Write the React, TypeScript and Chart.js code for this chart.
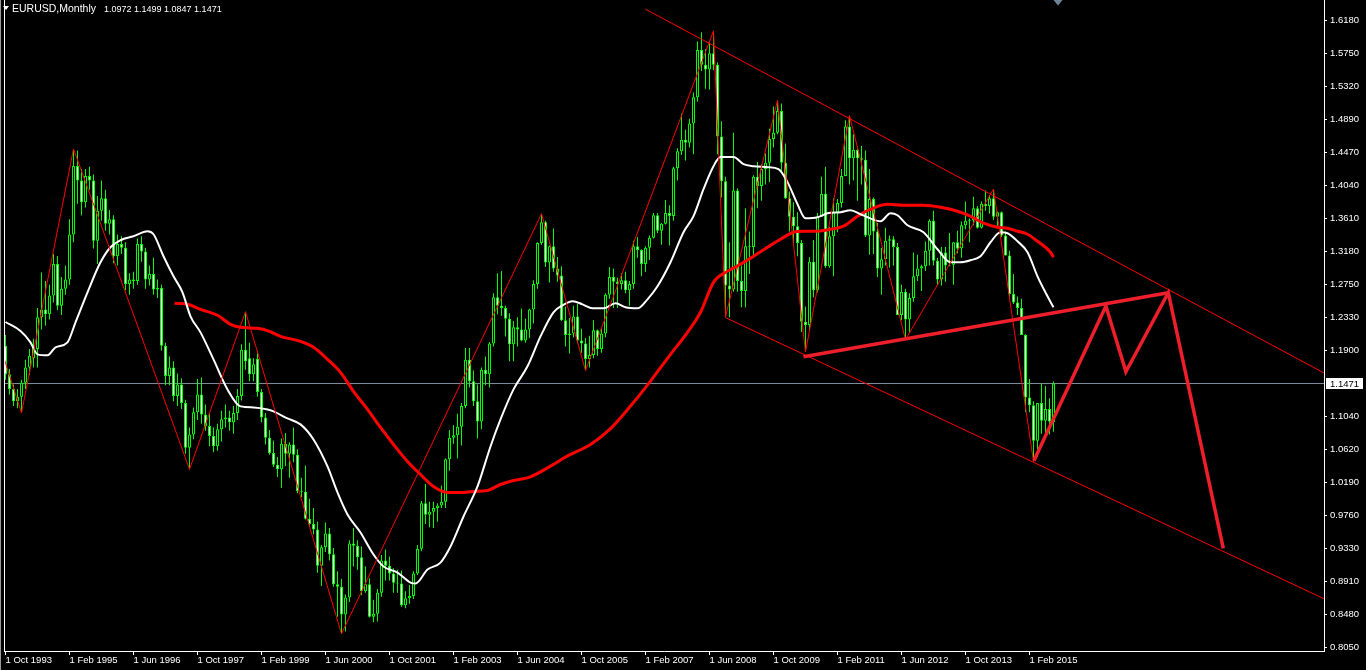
import React, { useEffect, useRef } from "react";
import { Chart, registerables } from "chart.js";

Chart.register(...registerables);

// ---- header ----
const symbolTitle = "EURUSD,Monthly";
const headerOHLC = [1.0972, 1.1499, 1.0847, 1.1471];
const currentPrice = 1.1471;

// ---- monthly candles, index 0 = Oct 1993 ... 262 = Aug 2015 ----
const opens = [
  1.196, 1.159, 1.140,
  1.124, 1.130, 1.148, 1.168, 1.180, 1.192, 1.233, 1.243, 1.237, 1.261, 1.302, 1.248,
  1.270, 1.282, 1.340, 1.429, 1.410, 1.382, 1.416, 1.410, 1.332, 1.371, 1.387, 1.354,
  1.360, 1.312, 1.328, 1.323, 1.276, 1.282, 1.280, 1.328, 1.318, 1.282, 1.289, 1.269,
  1.271, 1.196, 1.157, 1.168, 1.131, 1.146, 1.122, 1.064, 1.081, 1.110, 1.133, 1.107,
  1.092, 1.079, 1.066, 1.088, 1.101, 1.103, 1.097, 1.109, 1.131, 1.191, 1.180, 1.159,
  1.179, 1.136, 1.103, 1.077, 1.057, 1.042, 1.036, 1.069, 1.056, 1.068, 1.055, 1.008,
  1.007, 0.972, 0.965, 0.958, 0.911, 0.935, 0.953, 0.926, 0.887, 0.884, 0.848, 0.870,
  0.940, 0.937, 0.922, 0.878, 0.887, 0.845, 0.849, 0.876, 0.918, 0.911, 0.901, 0.889,
  0.888, 0.860, 0.869, 0.872, 0.901, 0.933, 0.992, 0.977, 0.981, 0.986, 0.989, 0.994,
  1.049, 1.077, 1.080, 1.091, 1.118, 1.178, 1.150, 1.124, 1.098, 1.165, 1.159, 1.199,
  1.259, 1.248, 1.245, 1.231, 1.198, 1.220, 1.217, 1.203, 1.217, 1.243, 1.276, 1.329,
  1.356, 1.304, 1.325, 1.296, 1.287, 1.229, 1.210, 1.212, 1.234, 1.203, 1.199, 1.179,
  1.184, 1.216, 1.192, 1.212, 1.262, 1.285, 1.279, 1.276, 1.281, 1.268, 1.276, 1.325,
  1.320, 1.302, 1.323, 1.336, 1.365, 1.345, 1.354, 1.368, 1.364, 1.426, 1.448, 1.463,
  1.459, 1.484, 1.518, 1.579, 1.560, 1.554, 1.575, 1.560, 1.467, 1.409, 1.274, 1.269,
  1.397, 1.280, 1.267, 1.325, 1.324, 1.415, 1.403, 1.425, 1.433, 1.464, 1.472, 1.500,
  1.433, 1.387, 1.363, 1.351, 1.329, 1.227, 1.223, 1.305, 1.268, 1.363, 1.393, 1.299,
  1.338, 1.369, 1.381, 1.416, 1.480, 1.439, 1.450, 1.439, 1.437, 1.339, 1.386, 1.344,
  1.296, 1.308, 1.332, 1.334, 1.324, 1.236, 1.266, 1.230, 1.258, 1.286, 1.296, 1.299,
  1.319, 1.358, 1.306, 1.282, 1.317, 1.300, 1.301, 1.330, 1.322, 1.352, 1.358, 1.359,
  1.374, 1.349, 1.380, 1.377, 1.387, 1.363, 1.369, 1.339, 1.313, 1.263, 1.252, 1.245,
  1.210, 1.129, 1.119, 1.073, 1.122, 1.099, 1.114, 1.0972,
];
const highs = [
  1.210, 1.166, 1.146,
  1.140, 1.152, 1.178, 1.192, 1.205, 1.245, 1.291, 1.280, 1.275, 1.315, 1.312, 1.285,
  1.300, 1.360, 1.451, 1.449, 1.425, 1.425, 1.428, 1.418, 1.390, 1.410, 1.398, 1.372,
  1.365, 1.340, 1.338, 1.330, 1.290, 1.292, 1.335, 1.338, 1.323, 1.300, 1.310, 1.282,
  1.275, 1.200, 1.182, 1.176, 1.160, 1.154, 1.126, 1.090, 1.116, 1.153, 1.155, 1.120,
  1.108, 1.090, 1.095, 1.112, 1.120, 1.112, 1.118, 1.140, 1.198, 1.240, 1.200, 1.180,
  1.190, 1.140, 1.109, 1.087, 1.073, 1.052, 1.076, 1.083, 1.071, 1.090, 1.062, 1.025,
  1.041, 0.998, 0.986, 0.968, 0.938, 0.967, 0.960, 0.934, 0.904, 0.894, 0.874, 0.944,
  0.960, 0.944, 0.936, 0.910, 0.895, 0.867, 0.881, 0.925, 0.932, 0.923, 0.908, 0.906,
  0.905, 0.878, 0.886, 0.904, 0.938, 0.995, 1.017, 0.994, 0.994, 0.992, 1.015, 1.050,
  1.087, 1.093, 1.108, 1.122, 1.193, 1.193, 1.164, 1.146, 1.168, 1.182, 1.201, 1.264,
  1.290, 1.293, 1.248, 1.238, 1.228, 1.233, 1.244, 1.231, 1.244, 1.281, 1.330, 1.367,
  1.358, 1.326, 1.348, 1.311, 1.299, 1.247, 1.232, 1.248, 1.250, 1.218, 1.206, 1.209,
  1.229, 1.217, 1.218, 1.264, 1.298, 1.296, 1.284, 1.290, 1.292, 1.280, 1.332, 1.337,
  1.321, 1.325, 1.339, 1.368, 1.368, 1.355, 1.385, 1.378, 1.428, 1.452, 1.497, 1.476,
  1.490, 1.524, 1.590, 1.602, 1.580, 1.589, 1.604, 1.563, 1.487, 1.415, 1.330, 1.472,
  1.400, 1.300, 1.374, 1.344, 1.417, 1.434, 1.431, 1.445, 1.477, 1.506, 1.514, 1.510,
  1.458, 1.396, 1.382, 1.369, 1.333, 1.247, 1.311, 1.333, 1.368, 1.415, 1.428, 1.350,
  1.387, 1.386, 1.425, 1.488, 1.494, 1.470, 1.454, 1.455, 1.449, 1.425, 1.388, 1.355,
  1.323, 1.349, 1.339, 1.338, 1.329, 1.275, 1.270, 1.264, 1.317, 1.314, 1.301, 1.331,
  1.360, 1.371, 1.310, 1.324, 1.324, 1.342, 1.330, 1.345, 1.357, 1.383, 1.361, 1.389,
  1.377, 1.383, 1.397, 1.391, 1.399, 1.370, 1.370, 1.344, 1.319, 1.289, 1.260, 1.257,
  1.211, 1.153, 1.124, 1.122, 1.147, 1.144, 1.128, 1.1499,
];
const lows = [
  1.152, 1.133, 1.118,
  1.115, 1.109, 1.140, 1.158, 1.168, 1.168, 1.217, 1.222, 1.230, 1.252, 1.242, 1.236,
  1.262, 1.275, 1.330, 1.380, 1.365, 1.375, 1.398, 1.322, 1.302, 1.358, 1.345, 1.340,
  1.303, 1.300, 1.315, 1.268, 1.262, 1.270, 1.275, 1.305, 1.270, 1.274, 1.262, 1.258,
  1.190, 1.145, 1.145, 1.124, 1.118, 1.114, 1.056, 1.036, 1.075, 1.100, 1.095, 1.086,
  1.066, 1.058, 1.060, 1.072, 1.090, 1.086, 1.082, 1.100, 1.125, 1.165, 1.150, 1.150,
  1.130, 1.097, 1.068, 1.055, 1.039, 1.026, 1.012, 1.040, 1.025, 1.045, 1.005, 1.000,
  0.971, 0.963, 0.952, 0.902, 0.885, 0.929, 0.918, 0.884, 0.845, 0.823, 0.826, 0.864,
  0.910, 0.906, 0.873, 0.876, 0.844, 0.838, 0.839, 0.871, 0.892, 0.892, 0.876, 0.876,
  0.858, 0.856, 0.862, 0.868, 0.899, 0.930, 0.965, 0.961, 0.960, 0.968, 0.986, 0.986,
  1.034, 1.069, 1.050, 1.067, 1.115, 1.142, 1.118, 1.076, 1.088, 1.145, 1.142, 1.195,
  1.237, 1.235, 1.208, 1.176, 1.176, 1.195, 1.202, 1.200, 1.206, 1.225, 1.270, 1.327,
  1.298, 1.278, 1.292, 1.279, 1.228, 1.195, 1.186, 1.207, 1.199, 1.187, 1.164, 1.168,
  1.180, 1.183, 1.187, 1.207, 1.257, 1.245, 1.245, 1.269, 1.264, 1.248, 1.270, 1.310,
  1.286, 1.292, 1.307, 1.335, 1.342, 1.327, 1.353, 1.326, 1.358, 1.410, 1.443, 1.436,
  1.453, 1.444, 1.512, 1.552, 1.529, 1.528, 1.553, 1.444, 1.388, 1.233, 1.233, 1.266,
  1.266, 1.246, 1.246, 1.289, 1.312, 1.374, 1.384, 1.405, 1.408, 1.453, 1.470, 1.421,
  1.386, 1.344, 1.327, 1.312, 1.214, 1.188, 1.215, 1.259, 1.265, 1.363, 1.297, 1.297,
  1.286, 1.343, 1.375, 1.416, 1.405, 1.410, 1.384, 1.405, 1.337, 1.314, 1.315, 1.285,
  1.262, 1.300, 1.297, 1.300, 1.236, 1.229, 1.204, 1.213, 1.253, 1.280, 1.267, 1.293,
  1.300, 1.300, 1.274, 1.274, 1.279, 1.299, 1.275, 1.316, 1.310, 1.347, 1.330, 1.352,
  1.348, 1.348, 1.371, 1.367, 1.359, 1.350, 1.337, 1.313, 1.257, 1.250, 1.236, 1.210,
  1.110, 1.110, 1.046, 1.052, 1.082, 1.082, 1.081, 1.0847,
];
const closes = [
  1.159, 1.140, 1.124,
  1.130, 1.148, 1.168, 1.183, 1.196, 1.233, 1.243, 1.237, 1.261, 1.302, 1.248, 1.270,
  1.282, 1.340, 1.429, 1.410, 1.382, 1.416, 1.410, 1.332, 1.371, 1.387, 1.354, 1.360,
  1.312, 1.328, 1.323, 1.276, 1.282, 1.280, 1.328, 1.318, 1.282, 1.289, 1.269, 1.271,
  1.196, 1.157, 1.168, 1.131, 1.146, 1.122, 1.064, 1.081, 1.110, 1.133, 1.107, 1.092,
  1.079, 1.066, 1.088, 1.101, 1.103, 1.097, 1.109, 1.131, 1.191, 1.176, 1.159, 1.172,
  1.136, 1.103, 1.077, 1.057, 1.042, 1.036, 1.069, 1.056, 1.068, 1.055, 1.008, 1.007,
  0.972, 0.965, 0.958, 0.911, 0.935, 0.953, 0.926, 0.887, 0.884, 0.848, 0.870, 0.940,
  0.937, 0.922, 0.878, 0.887, 0.845, 0.849, 0.876, 0.918, 0.911, 0.901, 0.889, 0.888,
  0.860, 0.869, 0.872, 0.901, 0.933, 0.992, 0.977, 0.981, 0.986, 0.989, 0.994, 1.049,
  1.077, 1.080, 1.091, 1.118, 1.178, 1.150, 1.124, 1.098, 1.165, 1.159, 1.199, 1.259,
  1.248, 1.245, 1.231, 1.198, 1.220, 1.217, 1.203, 1.217, 1.243, 1.276, 1.329, 1.356,
  1.304, 1.325, 1.296, 1.287, 1.229, 1.210, 1.212, 1.234, 1.203, 1.199, 1.179, 1.184,
  1.216, 1.192, 1.212, 1.262, 1.285, 1.279, 1.276, 1.281, 1.268, 1.276, 1.325, 1.320,
  1.302, 1.323, 1.336, 1.365, 1.345, 1.354, 1.368, 1.364, 1.426, 1.448, 1.463, 1.459,
  1.484, 1.518, 1.579, 1.560, 1.554, 1.575, 1.560, 1.467, 1.409, 1.274, 1.269, 1.397,
  1.280, 1.267, 1.325, 1.324, 1.415, 1.403, 1.425, 1.433, 1.464, 1.472, 1.500, 1.433,
  1.387, 1.363, 1.351, 1.329, 1.227, 1.223, 1.305, 1.268, 1.363, 1.393, 1.299, 1.338,
  1.369, 1.381, 1.416, 1.480, 1.439, 1.450, 1.439, 1.437, 1.339, 1.386, 1.344, 1.296,
  1.308, 1.332, 1.334, 1.324, 1.236, 1.266, 1.230, 1.258, 1.286, 1.296, 1.299, 1.319,
  1.358, 1.306, 1.282, 1.317, 1.300, 1.301, 1.330, 1.322, 1.352, 1.358, 1.359, 1.374,
  1.349, 1.380, 1.377, 1.387, 1.363, 1.369, 1.339, 1.313, 1.263, 1.252, 1.245, 1.210,
  1.129, 1.119, 1.073, 1.122, 1.099, 1.114, 1.098, 1.1471,
];

// ---- axes ----
const xTickMonths = [0, 16, 32, 48, 64, 80, 96, 112, 128, 144, 160, 176, 192, 208, 224, 240, 256];
const xTickLabels = [
  "1 Oct 1993", "1 Feb 1995", "1 Jun 1996", "1 Oct 1997", "1 Feb 1999", "1 Jun 2000",
  "1 Oct 2001", "1 Feb 2003", "1 Jun 2004", "1 Oct 2005", "1 Feb 2007", "1 Jun 2008",
  "1 Oct 2009", "1 Feb 2011", "1 Jun 2012", "1 Oct 2013", "1 Feb 2015",
];
const yTickValues = [
  1.618, 1.575, 1.532, 1.489, 1.447, 1.404, 1.361, 1.318, 1.275, 1.233, 1.19,
  1.104, 1.062, 1.019, 0.976, 0.933, 0.891, 0.848, 0.805,
];
const X_MIN = -0.375;
const X_MAX = 329.625;
const Y_MIN = 0.800654;
const Y_MAX = 1.643907;

// ---- indicators ----
const whiteMaMonths = [
  0, 3.75, 6.25, 8, 10.5, 12.5, 15.5, 17.5, 20.5, 23.75, 26.25, 28.75, 32, 35.5, 37, 39.5, 42, 44.25,
  46.25, 48.75, 52, 55.5, 58.75, 62, 65.5, 67, 70.5, 73.75, 77, 80.5, 83, 85.5, 88.75, 92, 94.5, 98,
  101.25, 102.5, 105.5, 108.75, 111.25, 114.5, 118, 121.25, 123.75, 127, 130.5, 133.75, 137, 139.25,
  141.75, 144.25, 146.75, 149.5, 152.5, 155, 158, 160.5, 163, 166.25, 169.5, 172, 174.5, 177, 178.75,
  182, 184.5, 187, 190.5, 193.25, 195.5, 198, 200, 203, 205.5, 208.75, 211.25, 213.75, 215.5, 218.75,
  221.25, 223, 225.5, 229.5, 233, 236.25, 238.75, 241.25, 243.75, 246.25, 248.75, 250.5, 253, 255.5,
  258, 260.5, 262,
];
const whiteMaValues = [
  1.2268, 1.2151, 1.2005, 1.1849, 1.1836, 1.194, 1.2005, 1.2264, 1.2653, 1.3042, 1.3237, 1.3327, 1.3379,
  1.3444, 1.3405, 1.312, 1.286, 1.2653, 1.2342, 1.2134, 1.1784, 1.1395, 1.1175, 1.1162, 1.1136, 1.111,
  1.1019, 1.0942, 1.0747, 1.0397, 1.006, 0.9775, 0.9541, 0.9256, 0.91, 0.9022, 0.8893, 0.888, 0.9061,
  0.9152, 0.936, 0.9749, 1.0138, 1.0656, 1.1006, 1.1395, 1.1694, 1.2082, 1.2394, 1.2484, 1.2536, 1.2497,
  1.2445, 1.2445, 1.251, 1.2458, 1.2445, 1.2562, 1.2731, 1.3042, 1.3431, 1.3639, 1.3989, 1.4287, 1.4404,
  1.4404, 1.4313, 1.4287, 1.4274, 1.4248, 1.408, 1.3794, 1.3612, 1.3625, 1.3677, 1.369, 1.3716, 1.3664,
  1.3625, 1.3573, 1.3677, 1.3651, 1.3521, 1.3431, 1.321, 1.3042, 1.3042, 1.3068, 1.312, 1.3301, 1.3431,
  1.3418, 1.3314, 1.3172, 1.286, 1.2601, 1.2458,
];
const redMaMonths = [
  42.25, 45.5, 48.75, 53, 56.25, 58.75, 63, 66, 68.75, 73.75, 77, 80.5, 83.75, 87, 90.5, 93.75, 97,
  100.5, 103.75, 107, 110.5, 113.75, 117, 120.5, 123.75, 127, 131.25, 136.25, 140.4, 146.25, 151.25,
  156.25, 161.25, 166.25, 170.5, 173.75, 177, 180.5, 183.75, 187, 190.5, 193.75, 197, 199.5, 203,
  206.25, 209.5, 213, 216.25, 220.5, 224.5, 229.5, 233.75, 238, 241.25, 244.5, 248, 250.5, 253, 255.5,
  258, 261.25, 262,
];
const redMaValues = [
  1.251, 1.2497, 1.2432, 1.2355, 1.2238, 1.2199, 1.2186, 1.2147, 1.2082, 1.2017, 1.194, 1.1784, 1.1616,
  1.1369, 1.1136, 1.0902, 1.0682, 1.0462, 1.0293, 1.0137, 1.006, 1.006, 1.0073, 1.0086, 1.0163, 1.0215,
  1.0263, 1.0401, 1.0531, 1.0682, 1.0886, 1.1179, 1.1503, 1.1849, 1.2134, 1.2394, 1.2782, 1.2925,
  1.3016, 1.312, 1.3236, 1.334, 1.3431, 1.3444, 1.3444, 1.347, 1.3509, 1.3638, 1.3729, 1.3794, 1.3781,
  1.3781, 1.3755, 1.3703, 1.3638, 1.3548, 1.3496, 1.3483, 1.3444, 1.3405, 1.3314, 1.3172, 1.3107,
];
const zigzagMonths = [-4, 4, 17, 46, 60, 84, 134, 145, 177, 180, 193, 200, 211, 225, 247, 257];
const zigzagValues = [
  1.2385, 1.109, 1.451, 1.036, 1.24, 0.823, 1.367, 1.164, 1.604, 1.233, 1.514, 1.188, 1.494, 1.204,
  1.399, 1.046,
];

// ---- hand-drawn objects ----
const channelUpperMonths = [160, 330];
const channelUpperValues = [1.632, 1.1597];
const channelLowerMonths = [180.05, 330];
const channelLowerValues = [1.2324, 0.8674];
const necklineMonths = [199.5, 290.7];
const necklineValues = [1.1819, 1.2648];
const projectionMonths = [257.1, 275.1, 280.1, 290.7, 304.45];
const projectionValues = [1.0471, 1.2475, 1.1624, 1.2648, 0.9337];

const pts = (ms: number[], vs: number[]) => ms.map((m, i) => ({ x: m, y: vs[i] }));

const LIME = "#00ff00";
const FONT = "Liberation Sans";

const chromePlugin = {
  id: "mt4chrome",
  beforeDatasetsDraw(chart: any) {
    const { ctx, chartArea, scales } = chart;
    const py = Math.floor(scales.y.getPixelForValue(currentPrice)) + 0.5;
    ctx.save();
    ctx.strokeStyle = "#7c8b9b";
    ctx.lineWidth = 1;
    ctx.beginPath();
    ctx.moveTo(chartArea.left, py);
    ctx.lineTo(chartArea.right, py);
    ctx.stroke();
    ctx.restore();
  },
  afterDraw(chart: any) {
    const { ctx, chartArea, scales } = chart;
    ctx.save();
    // left frame
    ctx.fillStyle = "#9a9a9a";
    ctx.fillRect(0, 0, 1, chart.height);
    ctx.fillStyle = "#ffffff";
    ctx.fillRect(chartArea.left, 0, 1, chartArea.bottom + 1);
    // price label
    const py = Math.floor(scales.y.getPixelForValue(currentPrice));
    ctx.fillStyle = "#ffffff";
    ctx.fillRect(chartArea.right + 2, py - 5, 37, 11);
    ctx.fillStyle = "#000000";
    ctx.font = `9.5px "${FONT}"`;
    ctx.textBaseline = "middle";
    ctx.textAlign = "left";
    ctx.fillText(currentPrice.toFixed(4), chartArea.right + 6, py + 1);
    // chart shift marker
    const sx = Math.round(scales.x.getPixelForValue(closes.length + 0.1));
    ctx.fillStyle = "#6f8396";
    ctx.beginPath();
    ctx.moveTo(sx - 4.5, 0);
    ctx.lineTo(sx + 4.5, 0);
    ctx.lineTo(sx, 5.5);
    ctx.closePath();
    ctx.fill();
    ctx.restore();
  },
};

export default function App() {
  const canvasRef = useRef<HTMLCanvasElement | null>(null);

  useEffect(() => {
    const canvas = canvasRef.current;
    if (!canvas) return;
    const idx = closes.map((_, i) => i);
    const wickData = idx.map((i) => ({ x: i, y: [lows[i], highs[i]] }));
    const bodyData = idx.map((i) => ({
      x: i,
      y: [Math.min(opens[i], closes[i]), Math.max(opens[i], closes[i])],
    }));
    const bodyFill = idx.map((i) => (closes[i] < opens[i] ? "#ffffff" : "#000000"));

    const lineBase = {
      type: "line" as const,
      pointRadius: 0,
      pointHoverRadius: 0,
      fill: false,
      tension: 0,
      clip: 0,
    };

    const chart = new Chart(canvas, {
      type: "bar",
      data: {
        datasets: [
          {
            type: "bar",
            data: wickData as any,
            backgroundColor: LIME,
            borderWidth: 0,
            barThickness: 1,
            grouped: false,
            inflateAmount: 0,
            order: 10,
          } as any,
          {
            type: "bar",
            data: bodyData as any,
            backgroundColor: bodyFill,
            borderColor: LIME,
            borderWidth: 1,
            borderSkipped: false,
            barThickness: 3,
            grouped: false,
            inflateAmount: 0,
            order: 9,
          } as any,
          {
            ...lineBase,
            data: pts(redMaMonths, redMaValues),
            borderColor: "#ff0000",
            borderWidth: 3,
            tension: 0.4,
            cubicInterpolationMode: "monotone",
            order: 6,
          } as any,
          {
            ...lineBase,
            data: pts(whiteMaMonths, whiteMaValues),
            borderColor: "#ffffff",
            borderWidth: 2,
            tension: 0.4,
            cubicInterpolationMode: "monotone",
            order: 5,
          } as any,
          {
            ...lineBase,
            data: pts(zigzagMonths, zigzagValues),
            borderColor: "#ff0000",
            borderWidth: 1,
            order: 4,
          } as any,
          {
            ...lineBase,
            data: pts(channelUpperMonths, channelUpperValues),
            borderColor: "#ff0000",
            borderWidth: 1,
            order: 3,
          } as any,
          {
            ...lineBase,
            data: pts(channelLowerMonths, channelLowerValues),
            borderColor: "#ff0000",
            borderWidth: 1,
            order: 3,
          } as any,
          {
            ...lineBase,
            data: pts(necklineMonths, necklineValues),
            borderColor: "#ee1f2b",
            borderWidth: 3.5,
            order: 2,
          } as any,
          {
            ...lineBase,
            data: pts(projectionMonths, projectionValues),
            borderColor: "#ee1f2b",
            borderWidth: 3.5,
            borderJoinStyle: "miter",
            order: 1,
          } as any,
        ],
      },
      options: {
        animation: false,
        responsive: false,
        maintainAspectRatio: false,
        devicePixelRatio: 1,
        events: [],
        layout: { padding: { left: 4, top: 0, right: 0, bottom: 0 } },
        plugins: {
          legend: { display: false },
          tooltip: { enabled: false },
          title: { display: false },
        },
        scales: {
          x: {
            type: "linear",
            min: X_MIN,
            max: X_MAX,
            offset: false,
            grid: {
              display: true,
              offset: false,
              drawOnChartArea: false,
              drawTicks: true,
              tickLength: 4,
              color: "#ffffff",
              lineWidth: 1,
            },
            border: { display: true, color: "#ffffff", width: 1 },
            ticks: {
              autoSkip: false,
              maxRotation: 0,
              minRotation: 0,
              align: "start",
              padding: 0,
              color: "#ffffff",
              font: { family: FONT, size: 9.5 },
              callback: (_v: any, i: number) => xTickLabels[i] ?? "",
            },
            afterBuildTicks: (s: any) => {
              s.ticks = xTickMonths.map((v) => ({ value: v }));
            },
            afterFit: (s: any) => {
              s.height = 19;
              s.paddingLeft = 0;
              s.paddingRight = 0;
            },
          } as any,
          y: {
            type: "linear",
            position: "right",
            min: Y_MIN,
            max: Y_MAX,
            beginAtZero: false,
            grid: {
              display: true,
              drawOnChartArea: false,
              drawTicks: true,
              tickLength: 3,
              color: "#ffffff",
              lineWidth: 1,
            },
            border: { display: true, color: "#ffffff", width: 1 },
            ticks: {
              autoSkip: false,
              padding: 3,
              crossAlign: "near",
              color: "#ffffff",
              font: { family: FONT, size: 9.5 },
              callback: (v: any) => Number(v).toFixed(4),
            },
            afterBuildTicks: (s: any) => {
              s.ticks = yTickValues.map((v) => ({ value: v }));
            },
            afterFit: (s: any) => {
              s.width = 42;
              s.paddingTop = 0;
              s.paddingBottom = 0;
            },
          } as any,
        },
      },
      plugins: [chromePlugin],
    });

    return () => {
      chart.destroy();
    };
  }, []);

  return (
    <div
      style={{
        position: "fixed",
        left: 0,
        top: 0,
        width: 1366,
        height: 670,
        background: "#000000",
        overflow: "hidden",
      }}
    >
      <canvas
        ref={canvasRef}
        width={1366}
        height={670}
        style={{ display: "block", width: 1366, height: 670 }}
      />
      <div
        style={{
          position: "absolute",
          left: 3,
          top: 6,
          width: 0,
          height: 0,
          borderLeft: "3px solid transparent",
          borderRight: "3px solid transparent",
          borderTop: "4px solid #ffffff",
        }}
      />
      <div
        style={{
          position: "absolute",
          left: 12,
          top: 2,
          color: "#ffffff",
          fontFamily: `"${FONT}"`,
          fontSize: "10.5px",
          lineHeight: "12px",
          whiteSpace: "pre",
        }}
      >
        {symbolTitle}
        <span style={{ fontSize: "9px", marginLeft: 8 }}>
          {headerOHLC.map((v) => v.toFixed(4)).join(" ")}
        </span>
      </div>
    </div>
  );
}
